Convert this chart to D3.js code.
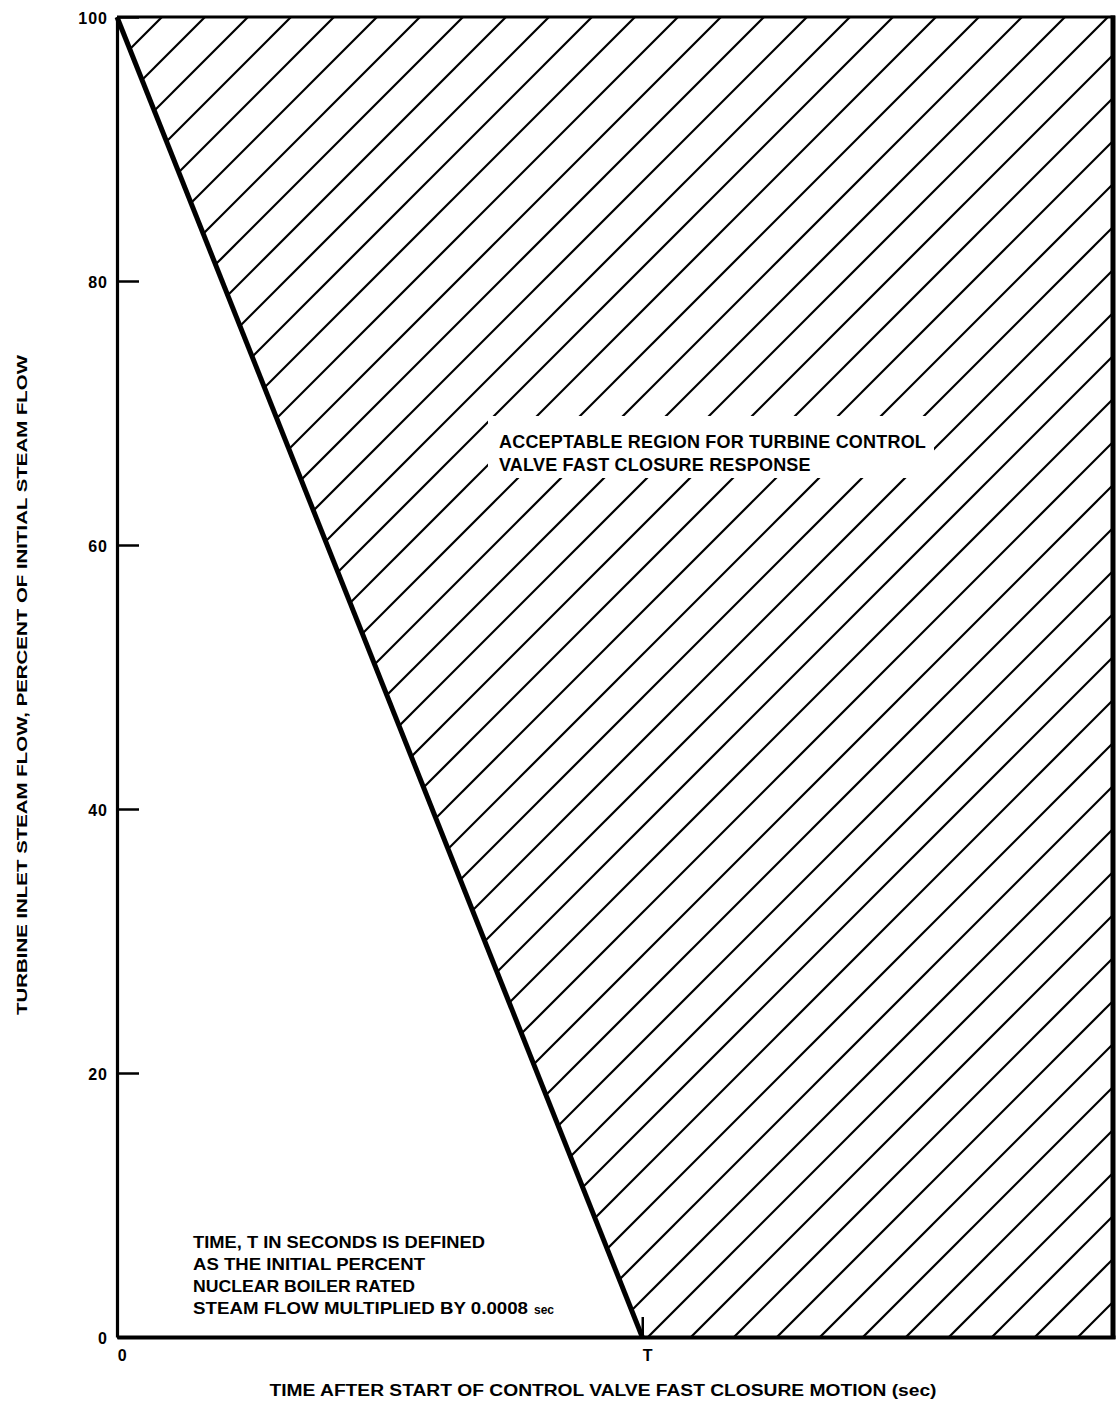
<!DOCTYPE html>
<html lang="en">
<head>
    <meta charset="UTF-8">
    <title>Turbine control valve fast closure</title>
    <style>
        body { margin: 0; background: #fff; }
        text {
            font-family: "Liberation Sans", Arial, sans-serif;
            font-weight: bold;
            fill: #000;
        }
    </style>
</head>
<body>
<div id="chart"></div>

<script src="https://d3js.org/d3.v7.min.js"></script>
<script>
    // axis ticks
    var yTicks = [0, 20, 40, 60, 80, 100];
    var xTickValues = [0, 1];
    var xTickLabels = ["0", "T"];
    var xMax = 1.9; // time in units of T

    // limit line: 100% at t=0 down to 0% at t=T
    var limitLine = [[0, 100], [1, 0]];

    var noteLines = [
        "TIME, T IN SECONDS IS DEFINED",
        "AS THE INITIAL PERCENT",
        "NUCLEAR BOILER RATED",
        "STEAM FLOW MULTIPLIED BY 0.0008"
    ];
    var regionLines = [
        "ACCEPTABLE REGION FOR TURBINE CONTROL",
        "VALVE FAST CLOSURE RESPONSE"
    ];

    var width = 1117, height = 1406;

    var svg = d3.select("#chart")
        .append("svg")
        .attr("width", width)
        .attr("height", height);

    var x = d3.scaleLinear().domain([0, xMax]).range([117, 1115]);
    var y = d3.scaleLinear().domain([0, 100]).range([1337, 17]);

    // acceptable region = everything right of the limit line
    var region = [limitLine[0], limitLine[1], [xMax, 0], [xMax, 100]];
    svg.append("clipPath")
        .attr("id", "regionClip")
        .append("polygon")
        .attr("points", region.map(function (d) { return x(d[0]) + "," + y(d[1]); }).join(" "));

    // hatching, 45 degree lines
    var spacing = 43, c0 = 179;
    var hatch = d3.range(-30, 60).map(function (k) { return c0 + k * spacing; });
    svg.append("g")
        .attr("clip-path", "url(#regionClip)")
        .selectAll("line")
        .data(hatch)
        .enter()
        .append("line")
        .attr("x1", function (c) { return c - y(100); })
        .attr("y1", y(100))
        .attr("x2", function (c) { return c - y(0); })
        .attr("y2", y(0))
        .attr("stroke", "#000")
        .attr("stroke-width", 2.2);

    // white patch behind the region label
    svg.append("rect")
        .attr("x", 488).attr("y", 416)
        .attr("width", 446).attr("height", 62)
        .attr("fill", "#fff");

    // frame
    svg.append("line")
        .attr("x1", x(0)).attr("x2", x(xMax)).attr("y1", y(100)).attr("y2", y(100))
        .attr("stroke", "#000").attr("stroke-width", 3);
    svg.append("line")
        .attr("x1", x(xMax) - 2).attr("x2", x(xMax) - 2).attr("y1", y(100) - 1.5).attr("y2", y(0) + 2)
        .attr("stroke", "#000").attr("stroke-width", 5);

    // y axis, ticks pointing inward
    var yAxis = d3.axisLeft(y)
        .tickValues(yTicks)
        .tickSizeInner(-22)
        .tickSizeOuter(0)
        .tickPadding(9);
    var gy = svg.append("g")
        .attr("transform", "translate(" + x(0) + ",0)")
        .call(yAxis);
    gy.select(".domain").attr("stroke-width", 3.2);
    gy.selectAll(".tick line").attr("stroke-width", 2.5);
    gy.selectAll(".tick text")
        .style("font-size", "16px")
        .style("letter-spacing", "1px")
        .attr("dy", "0.4em");

    // x axis
    var xAxis = d3.axisBottom(x)
        .tickValues(xTickValues)
        .tickFormat(function (d, i) { return xTickLabels[i]; })
        .tickSizeInner(-20)
        .tickSizeOuter(0)
        .tickPadding(13);
    var gx = svg.append("g")
        .attr("transform", "translate(0," + y(0) + ")")
        .call(xAxis);
    gx.select(".domain").attr("stroke-width", 4);
    gx.selectAll(".tick line").attr("stroke-width", 2.5);
    gx.selectAll(".tick text")
        .style("font-size", "16px")
        .attr("dx", "0.3em");

    // limit line
    svg.append("path")
        .datum(limitLine)
        .attr("d", d3.line().x(function (d) { return x(d[0]); }).y(function (d) { return y(d[1]); }))
        .attr("fill", "none")
        .attr("stroke", "#000")
        .attr("stroke-width", 5);

    // region label
    svg.append("g")
        .selectAll("text")
        .data(regionLines)
        .enter()
        .append("text")
        .attr("x", 499)
        .attr("y", function (d, i) { return 448 + i * 23; })
        .style("font-size", "18px")
        .style("letter-spacing", "0.2px")
        .text(function (d) { return d; });

    // definition note, widths matched to the original lettering
    var noteWidths = [292, 232, 222, 335];
    var note = svg.append("g");
    note.selectAll("text")
        .data(noteLines)
        .enter()
        .append("text")
        .attr("x", 193)
        .attr("y", function (d, i) { return 1248 + i * 22; })
        .attr("textLength", function (d, i) { return noteWidths[i]; })
        .attr("lengthAdjust", "spacingAndGlyphs")
        .style("font-size", "16.5px")
        .text(function (d) { return d; });
    note.append("text")
        .attr("x", 534)
        .attr("y", 1248 + 3 * 22)
        .style("font-size", "12px")
        .text("sec");

    // axis titles
    svg.append("text")
        .attr("x", 603)
        .attr("y", 1396)
        .attr("text-anchor", "middle")
        .attr("textLength", 667)
        .attr("lengthAdjust", "spacingAndGlyphs")
        .style("font-size", "16px")
        .text("TIME AFTER START OF CONTROL VALVE FAST CLOSURE MOTION (sec)");

    svg.append("text")
        .attr("transform", "translate(27,685) rotate(-90)")
        .attr("text-anchor", "middle")
        .attr("textLength", 660)
        .attr("lengthAdjust", "spacingAndGlyphs")
        .style("font-size", "15px")
        .text("TURBINE INLET STEAM FLOW, PERCENT OF INITIAL STEAM FLOW");
</script>
</body>
</html>
